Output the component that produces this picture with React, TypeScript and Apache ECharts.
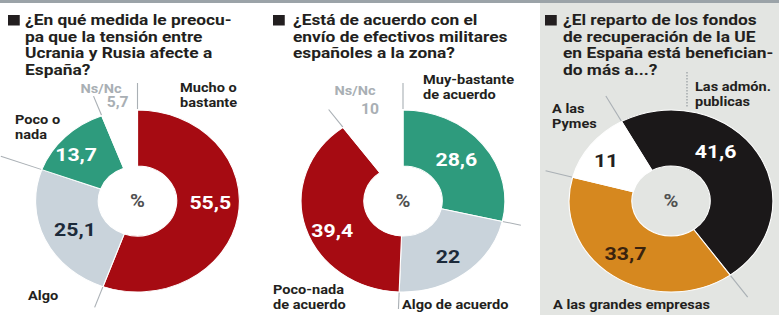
import React, { useEffect, useRef } from 'react';
import * as echarts from 'echarts';

// The reference graphic is horizontally stretched; draw in a narrower space and stretch.
const S = 1.12;
const W = 779 / S;
const H = 315;
const X = (x: number) => x / S;
const FONT = 'Roboto, "Noto Sans", sans-serif';

// ---------- DATA ----------
const title1 = ['¿En qué medida le preocu-', 'pa que la tensión entre', 'Ucrania y Rusia afecte a', 'España?'];
const title2 = ['¿Está de acuerdo con el', 'envío de efectivos militares', 'españoles a la zona?'];
const title3 = ['¿El reparto de los fondos', 'de recuperación de la UE', 'en España está benefician-', 'do más a...?'];

const q1Categories = ['Mucho o\nbastante', 'Algo', 'Poco o\nnada', 'Ns/Nc'];
const q1Values = [55.5, 25.1, 13.7, 5.7];

const q2Categories = ['Muy-bastante\nde acuerdo', 'Algo de acuerdo', 'Poco-nada\nde acuerdo', 'Ns/Nc'];
const q2Values = [28.6, 22, 39.4, 10];

const q3Categories = ['Las admón.\npublicas', 'A las grandes empresas', 'A las\nPymes'];
const q3Values = [41.6, 33.7, 11];

// ---------- STYLE ----------
const RED = '#a60b12';
const GREY = '#c9d3db';
const TEAL = '#2e9b7d';
const BLACK = '#1b1819';
const ORANGE = '#d6881f';
const INK = '#231f20';
const MUTED = '#a9afb4';

const q1Colors = [RED, GREY, TEAL, '#ffffff'];
const q2Colors = [TEAL, GREY, RED, '#ffffff'];
const q3Colors = [BLACK, ORANGE, '#ffffff'];

const q1LabelColors = ['#fff', '#1c2a3a', '#fff', MUTED];
const q2LabelColors = ['#fff', '#1c2a3a', '#fff', MUTED];
const q3LabelColors = ['#fff', '#3a230e', INK];

const q1Offsets = [[0, -10], [4, 0], [-8, 0], [-6, -34]];
const q2Offsets = [[-4, 0], [0, 3], [0, 10], [-9, -29]];
const q3Offsets = [[-16, -14], [-3, -2], [-6, 0]];

const CY = 201;
const R_IN = 35;
const R_OUT = 91;
const centers = [X(137.5), X(403), X(671)];
const q3StartTheta = 331; // clockwise from 12 o'clock

const fmt = (v: number) => String(v).replace('.', ',');

function pieSeries(values: number[], names: string[], colors: string[], labelColors: string[], offsets: number[][], cx: number, startTheta: number, mutedIdx: number) {
  return {
    type: 'pie',
    center: [cx, CY],
    radius: [R_IN, R_OUT],
    startAngle: 90 - startTheta,
    clockwise: true,
    avoidLabelOverlap: false,
    silent: true,
    emphasis: { disabled: true },
    labelLine: { show: false },
    itemStyle: { borderColor: '#fff', borderWidth: 1 },
    label: {
      show: true,
      position: 'inside',
      formatter: (p: any) => fmt(p.value),
      fontFamily: FONT,
      fontWeight: 'bold',
      fontSize: 19,
    },
    data: values.map((v, i) => ({
      value: v,
      name: names[i],
      itemStyle: { color: colors[i] },
      label: {
        color: labelColors[i],
        offset: offsets[i],
        fontSize: i === mutedIdx ? 14 : 19,
      },
    })),
  };
}

function boundaryLines(values: number[], startTheta: number, cx: number, specs: number[][], color = '#aab0b5') {
  const total = values.reduce((a, b) => a + b, 0);
  const angles: number[] = [];
  let acc = 0;
  for (let i = 0; i < values.length; i++) {
    angles.push(startTheta + (360 * acc) / total);
    acc += values[i];
  }
  return specs.map(([idx, r1, r2]) => {
    const t = (angles[idx] * Math.PI) / 180;
    return {
      type: 'line',
      silent: true,
      shape: {
        x1: cx + r1 * Math.sin(t), y1: CY - r1 * Math.cos(t),
        x2: cx + r2 * Math.sin(t), y2: CY - r2 * Math.cos(t),
      },
      style: { stroke: color, lineWidth: 1 },
    };
  });
}

function text(t: string, x: number, y: number, opts: any = {}) {
  return {
    type: 'text',
    x,
    y,
    silent: true,
    style: {
      text: t,
      fill: opts.fill || INK,
      fontFamily: FONT,
      fontWeight: opts.weight || 'bold',
      fontSize: opts.size || 13,
      lineHeight: opts.lh || 15,
      align: opts.align || 'left',
      verticalAlign: opts.va || 'middle',
    },
  };
}

function titleBlock(lines: string[], sqX: number, txX: number) {
  const y0 = 20;
  return [
    { type: 'rect', silent: true, shape: { x: X(sqX), y: y0 - 5, width: 10.5, height: 10.5 }, style: { fill: INK } },
    text(lines.join('\n'), X(txX), y0 - 8.25, { size: 15.5, lh: 16.5, va: 'top' }),
  ];
}

export default function App() {
  const ref = useRef<HTMLDivElement>(null);
  useEffect(() => {
    if (!ref.current) return;
    const chart = echarts.init(ref.current, undefined, { renderer: 'svg' });
    const elements: any[] = [
      { type: 'rect', silent: true, shape: { x: X(540), y: 3, width: W - X(540), height: H - 3 }, style: { fill: '#e3e5e2' } },
      { type: 'rect', silent: true, shape: { x: 0, y: 0, width: W, height: 3 }, style: { fill: '#9ba3a8' } },
      ...titleBlock(title1, 8, 25),
      ...titleBlock(title2, 273, 293),
      ...titleBlock(title3, 545, 563),
      // panel 1 outer labels
      text(q1Categories[0], X(180), 95),
      text(q1Categories[2], X(15), 127),
      text(q1Categories[1], X(28), 295),
      text(q1Categories[3], X(101), 88, { fill: MUTED, align: 'center' }),
      // panel 2 outer labels
      text(q2Categories[0], X(423), 87),
      text(q2Categories[3], X(355), 90, { fill: MUTED, align: 'center' }),
      text(q2Categories[2], X(273), 297),
      text(q2Categories[1], X(402), 304),
      // panel 3 outer labels
      text(q3Categories[0], X(695), 94),
      text(q3Categories[2], X(552), 116),
      text(q3Categories[1], X(553), 304),
      // centre percent signs
      ...centers.map((cx) => text('%', cx, CY, { size: 18, weight: 'bold', fill: '#505050', align: 'center' })),
      // boundary leader lines
      ...boundaryLines(q1Values, 0, centers[0], [[0, 92, 118], [1, 91, 113], [2, 91, 130], [3, 91, 112]]),
      ...boundaryLines(q2Values, 0, centers[1], [[0, 92, 118], [1, 91, 108], [2, 91, 108], [3, 91, 113]]),
      ...boundaryLines(q3Values, q3StartTheta, centers[2], [[0, 91, 120], [1, 91, 118], [2, 91, 116]]),
      { type: 'line', silent: true, shape: { x1: X(687), y1: 72, x2: X(687), y2: 108 }, style: { stroke: '#8f969b', lineWidth: 1, lineDash: [1.5, 1.5] } },
    ];
    chart.setOption({
      animation: false,
      backgroundColor: '#ffffff',
      graphic: { elements },
      series: [
        pieSeries(q1Values, q1Categories, q1Colors, q1LabelColors, q1Offsets, centers[0], 0, 3),
        pieSeries(q2Values, q2Categories, q2Colors, q2LabelColors, q2Offsets, centers[1], 0, 3),
        pieSeries(q3Values, q3Categories, q3Colors, q3LabelColors, q3Offsets, centers[2], q3StartTheta, -1),
      ],
    });
    return () => chart.dispose();
  }, []);
  return (
    <div
      ref={ref}
      style={{
        position: 'absolute',
        left: 0,
        top: 0,
        width: W,
        height: H,
        transform: `scaleX(${S})`,
        transformOrigin: '0 0',
      }}
    />
  );
}
